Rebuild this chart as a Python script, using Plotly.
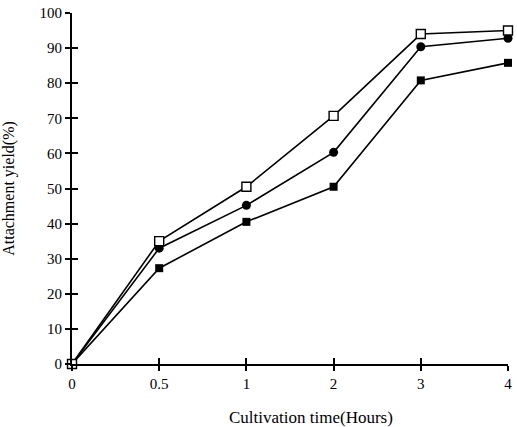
import plotly.graph_objects as go

time_labels = ["0", "0.5", "1", "2", "3", "4"]
open_square = [0, 35, 50.5, 70.7, 94, 95]
filled_circle = [0, 33, 45.2, 60.3, 90.4, 92.8]
filled_square = [0, 27.3, 40.5, 50.5, 80.8, 85.8]

FONT = "Liberation Serif, Times New Roman, serif"

fig = go.Figure()
line = dict(color="black", width=1.6)
fig.add_trace(go.Scatter(x=time_labels, y=filled_square, mode="lines+markers",
                         line=line, marker=dict(symbol="square", size=8, color="black"),
                         cliponaxis=False, showlegend=False))
fig.add_trace(go.Scatter(x=time_labels, y=filled_circle, mode="lines+markers",
                         line=line, marker=dict(symbol="circle", size=9, color="black"),
                         cliponaxis=False, showlegend=False))
fig.add_trace(go.Scatter(x=time_labels, y=open_square, mode="lines+markers",
                         line=line, marker=dict(symbol="square", size=9, color="white",
                                                line=dict(color="black", width=1.4)),
                         cliponaxis=False, showlegend=False))
# invisible helper trace on overlay axes (for tick marks crossing the axis lines)
fig.add_trace(go.Scatter(x=[0], y=[0], xaxis="x2", yaxis="y2", mode="markers",
                         marker=dict(opacity=0), hoverinfo="skip", showlegend=False))

common = dict(showgrid=False, zeroline=False, showline=True, linecolor="black",
              linewidth=1.8, tickcolor="black", tickwidth=1.8)

fig.update_layout(
    width=517, height=427,
    margin=dict(l=72, r=5, t=12, b=63),
    paper_bgcolor="white", plot_bgcolor="white",
    font=dict(family=FONT, size=15, color="black"),
    xaxis=dict(type="category", range=[0, 5], ticks="outside", ticklen=5,
               tickfont=dict(size=15, family=FONT), **common),
    yaxis=dict(range=[0, 100], dtick=10, ticks="outside", ticklen=5,
               tickfont=dict(size=15, family=FONT),
               title=dict(text="Attachment yield(%)", font=dict(size=16, family=FONT), standoff=22),
               **common),
    xaxis2=dict(overlaying="x", range=[0, 5], dtick=1, ticks="inside", ticklen=6,
                showticklabels=False, side="bottom", **common),
    yaxis2=dict(overlaying="y", range=[0, 100], dtick=10, ticks="inside", ticklen=6,
                showticklabels=False, side="left", **common),
    annotations=[dict(text="Cultivation time(Hours)", xref="paper", yref="paper",
                      x=0.548, y=0, yshift=-42, yanchor="top", showarrow=False,
                      font=dict(size=17, family=FONT))],
)

fig.write_html("out.html")
